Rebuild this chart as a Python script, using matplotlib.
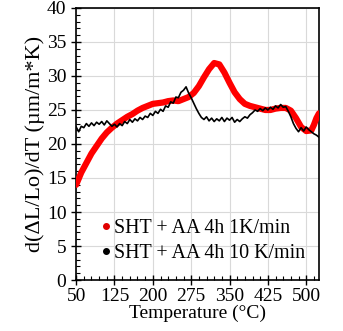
import matplotlib
matplotlib.use('Agg')
import matplotlib.pyplot as plt
from matplotlib.ticker import MultipleLocator, FixedLocator

plt.rcParams['font.family'] = ['Liberation Serif', 'DejaVu Serif']

# 1 K/min (red, smooth)
t_red = [50, 60, 70, 80, 90, 100, 110, 120, 130, 140, 150, 160, 170, 180, 190,
         200, 210, 220, 230, 240, 250, 260, 270, 280, 290, 300, 310, 320, 330,
         340, 350, 360, 370, 380, 390, 400, 410, 420, 430, 440, 450, 460, 470,
         480, 490, 500, 510, 515, 520, 525]
d_red = [14.0, 15.8, 17.2, 18.6, 19.7, 20.8, 21.7, 22.4, 23.0, 23.5, 24.0, 24.4,
         24.9, 25.3, 25.6, 25.9, 26.0, 26.1, 26.3, 26.4, 26.3, 26.6, 26.9, 27.5,
         28.5, 29.8, 31.0, 31.9, 31.7, 30.5, 29.0, 27.6, 26.6, 25.9, 25.6, 25.4,
         25.2, 25.0, 25.0, 25.2, 25.3, 25.3, 24.9, 23.8, 22.5, 21.9, 22.0, 22.8,
         23.8, 24.5]

# 10 K/min (black, noisy)
t_blk = list(range(50, 530, 5))
d_blk = [22.5, 21.8, 22.6, 22.4, 23.0, 22.6, 23.1, 22.7, 23.2, 22.9, 23.3, 22.8,
         23.4, 23.0, 22.6, 22.9, 22.5, 23.0, 22.7, 23.3, 23.0, 23.6, 23.2, 23.7,
         23.4, 23.9, 23.6, 24.1, 23.9, 24.5, 24.2, 24.8, 24.5, 25.1, 24.8, 25.6,
         25.4, 26.2, 26.0, 26.9, 26.8, 27.6, 27.9, 28.4, 27.5, 26.8, 26.0, 25.2,
         24.5, 23.9, 23.6, 24.0, 23.4, 23.8, 23.3, 23.7, 23.4, 23.9, 23.3, 23.8,
         23.5, 23.9, 23.2, 23.6, 23.3, 23.7, 24.0, 23.8, 24.3, 24.6, 25.0, 24.8,
         25.2, 24.9, 25.3, 25.0, 25.4, 25.1, 25.6, 25.3, 25.8, 25.4, 25.5, 24.8,
         24.0, 23.0, 22.3, 21.8, 22.4, 21.9, 22.5, 22.1, 21.8, 21.5, 21.3, 21.0]

labels = ['SHT + AA 4h 1K/min', 'SHT + AA 4h 10 K/min']
xticks = [50, 125, 200, 275, 350, 425, 500]

fig = plt.figure(figsize=(3.43, 3.31), dpi=100)
ax = fig.add_axes([0.222, 0.154, 0.708, 0.822])

ax.plot(t_red, d_red, color='#ff0000', lw=4.5, solid_capstyle='round', zorder=3)
ax.plot(t_blk, d_blk, color='black', lw=1.2, zorder=4)

ax.set_xlim(50, 525)
ax.set_ylim(0, 40)
ax.xaxis.set_major_locator(FixedLocator(xticks))
ax.xaxis.set_minor_locator(FixedLocator(list(range(50, 526, 15))))
ax.yaxis.set_major_locator(MultipleLocator(5))
ax.yaxis.set_minor_locator(MultipleLocator(1))
ax.tick_params(which='major', direction='inout', length=7, width=1, labelsize=14)
ax.tick_params(axis='x', which='major', pad=2)
ax.tick_params(which='minor', direction='in', length=3, width=0.8)
ax.grid(True, which='major', color='#d9d9d9', lw=0.8)
ax.set_axisbelow(True)
for s in ax.spines.values():
    s.set_linewidth(1.2)

ax.set_xlabel('Temperature (°C)', fontsize=14, labelpad=0)
ax.set_ylabel('d(ΔL/Lo)/dT (µm/m*K)', fontsize=16, labelpad=1)

h1, = ax.plot([], [], 'o', color='#e00000', ms=4)
h2, = ax.plot([], [], 'o', color='black', ms=4)
ax.legend([h1, h2], labels, loc='lower left', bbox_to_anchor=(0.06, 0.02),
          frameon=False, fontsize=14.4, handlelength=0.3, handletextpad=0.25,
          labelspacing=0.3, borderaxespad=0.2)

fig.savefig('out.png', dpi=100)
